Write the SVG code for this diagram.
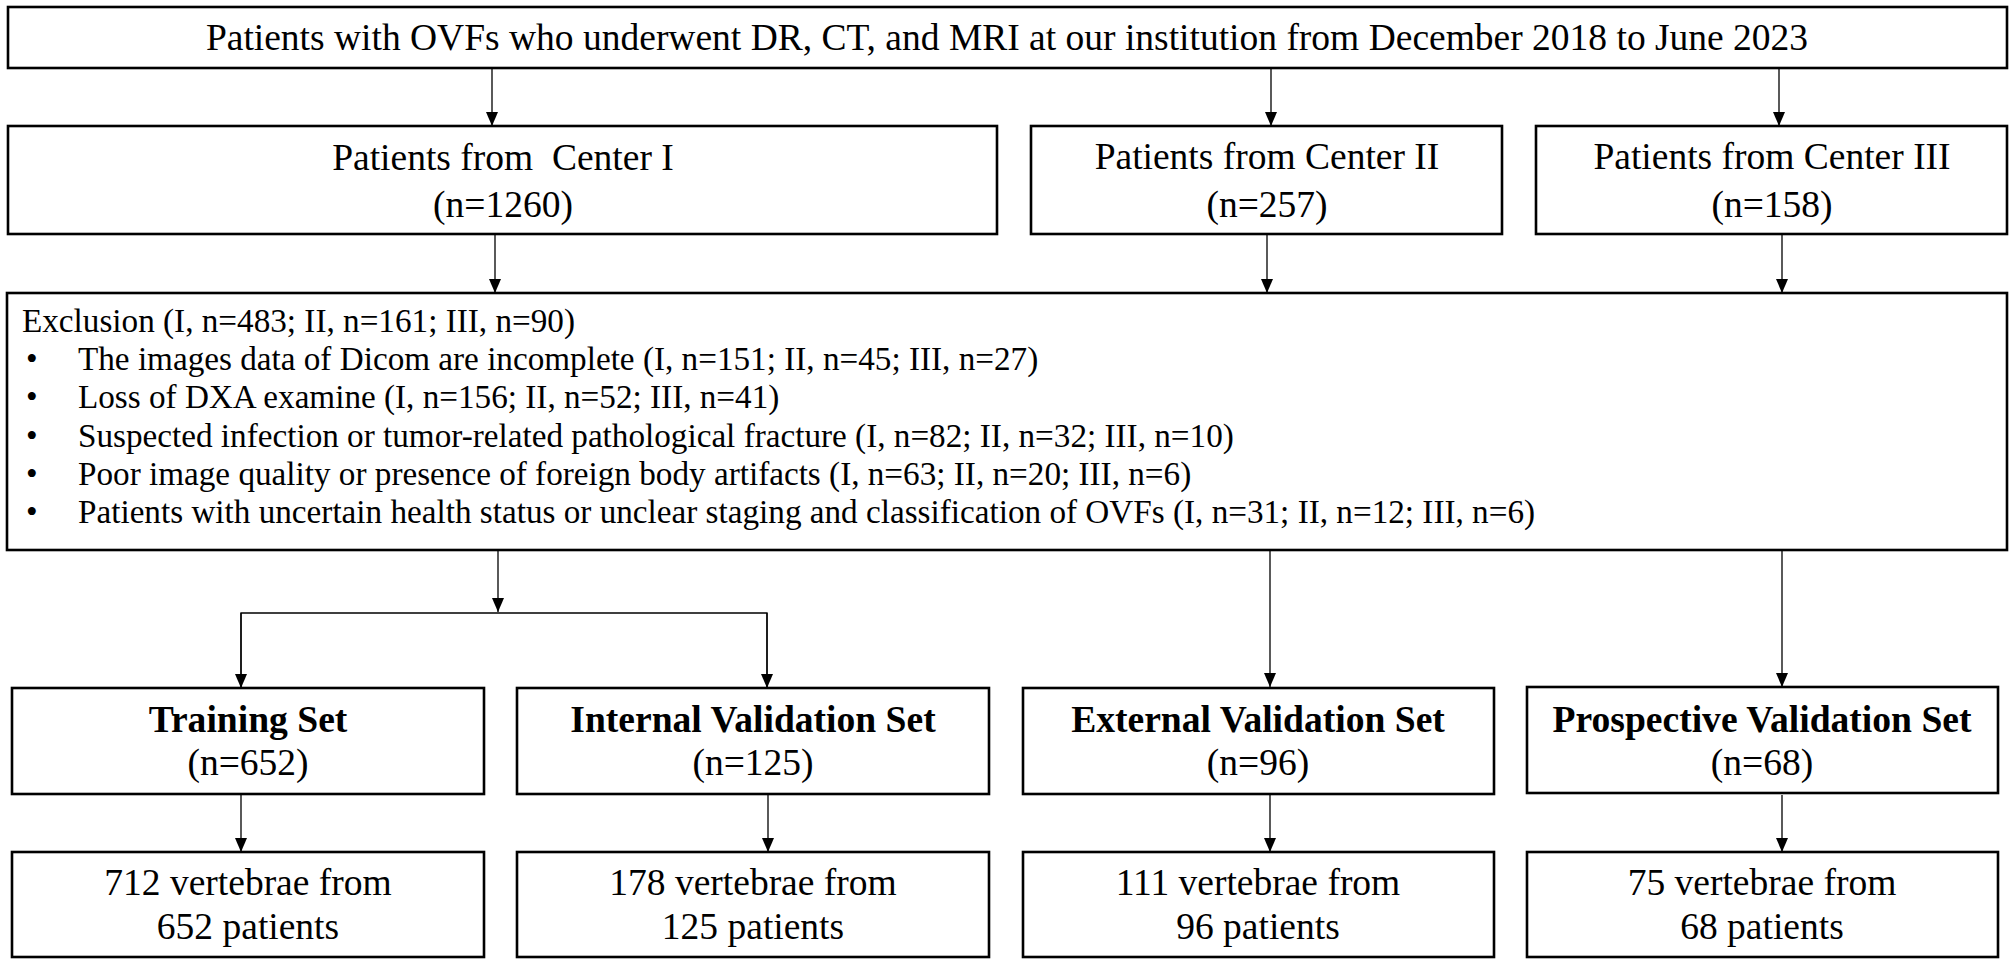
<svg xmlns="http://www.w3.org/2000/svg" width="2015" height="965" viewBox="0 0 2015 965">
<style>
.box{fill:#fff;stroke:#000;stroke-width:2.6}
.t{font-family:"Liberation Serif","Times New Roman",serif;font-size:37.5px;fill:#000;text-anchor:middle}
.b{font-weight:bold;font-size:37.6px}
.ex{font-family:"Liberation Serif","Times New Roman",serif;font-size:33.2px;fill:#000}
.c{fill:none;stroke:#000;stroke-width:1.3}
</style>
<defs>
<marker id="av" markerUnits="userSpaceOnUse" markerWidth="12" markerHeight="14" viewBox="0 0 12 14" refX="6" refY="14" orient="0">
<path d="M0,0 L12,0 L6,14 Z" fill="#000"/>
</marker>
</defs>
<rect width="2015" height="965" fill="#fff"/>
<g id="connectors">
<line class="c" x1="492" y1="68" x2="492" y2="126" marker-end="url(#av)"/>
<line class="c" x1="1271" y1="68" x2="1271" y2="126" marker-end="url(#av)"/>
<line class="c" x1="1779" y1="68" x2="1779" y2="126" marker-end="url(#av)"/>
<line class="c" x1="495" y1="234" x2="495" y2="293" marker-end="url(#av)"/>
<line class="c" x1="1267" y1="234" x2="1267" y2="293" marker-end="url(#av)"/>
<line class="c" x1="1782" y1="234" x2="1782" y2="293" marker-end="url(#av)"/>
<line class="c" x1="498" y1="551" x2="498" y2="612" marker-end="url(#av)"/>
<polyline class="c" points="241,687 241,613 767,613 767,687"/>
<line class="c" x1="241" y1="613" x2="241" y2="688" marker-end="url(#av)"/>
<line class="c" x1="767" y1="613" x2="767" y2="688" marker-end="url(#av)"/>
<line class="c" x1="1270" y1="551" x2="1270" y2="687" marker-end="url(#av)"/>
<line class="c" x1="1782" y1="551" x2="1782" y2="687" marker-end="url(#av)"/>
<line class="c" x1="241" y1="795" x2="241" y2="852" marker-end="url(#av)"/>
<line class="c" x1="768" y1="795" x2="768" y2="852" marker-end="url(#av)"/>
<line class="c" x1="1270" y1="795" x2="1270" y2="852" marker-end="url(#av)"/>
<line class="c" x1="1782" y1="795" x2="1782" y2="852" marker-end="url(#av)"/>
</g>
<g id="top">
<rect class="box" x="8" y="7" width="1999" height="61"/>
<text class="t" x="1007" y="50">Patients with OVFs who underwent DR, CT, and MRI at our institution from December 2018 to June 2023</text>
</g>
<g id="center1">
<rect class="box" x="8" y="126" width="989" height="108"/>
<text class="t" x="503" y="170" xml:space="preserve">Patients from  Center I</text>
<text class="t" x="503" y="217">(n=1260)</text>
</g>
<g id="center2">
<rect class="box" x="1031" y="126" width="471" height="108"/>
<text class="t" x="1267" y="169">Patients from Center II</text>
<text class="t" x="1267" y="217">(n=257)</text>
</g>
<g id="center3">
<rect class="box" x="1536" y="126" width="471" height="108"/>
<text class="t" x="1772" y="169">Patients from Center III</text>
<text class="t" x="1772" y="217">(n=158)</text>
</g>
<g id="exclusion">
<rect class="box" x="7" y="293" width="2000" height="257"/>
<text class="ex" x="22" y="332">Exclusion (I, n=483; II, n=161; III, n=90)</text>
<text class="ex" x="26" y="370">•</text><text class="ex" x="78" y="370">The images data of Dicom are incomplete (I, n=151; II, n=45; III, n=27)</text>
<text class="ex" x="26" y="408">•</text><text class="ex" x="78" y="408">Loss of DXA examine (I, n=156; II, n=52; III, n=41)</text>
<text class="ex" x="26" y="447">•</text><text class="ex" x="78" y="447">Suspected infection or tumor-related pathological fracture (I, n=82; II, n=32; III, n=10)</text>
<text class="ex" x="26" y="485">•</text><text class="ex" x="78" y="485">Poor image quality or presence of foreign body artifacts (I, n=63; II, n=20; III, n=6)</text>
<text class="ex" x="26" y="523">•</text><text class="ex" x="78" y="523">Patients with uncertain health status or unclear staging and classification of OVFs (I, n=31; II, n=12; III, n=6)</text>
</g>
<g id="training">
<rect class="box" x="12" y="688" width="472" height="106"/>
<text class="t b" x="248" y="732">Training Set</text>
<text class="t" x="248" y="775">(n=652)</text>
</g>
<g id="internal">
<rect class="box" x="517" y="688" width="472" height="106"/>
<text class="t b" x="753" y="732">Internal Validation Set</text>
<text class="t" x="753" y="775">(n=125)</text>
</g>
<g id="external">
<rect class="box" x="1023" y="688" width="471" height="106"/>
<text class="t b" x="1258" y="732">External Validation Set</text>
<text class="t" x="1258" y="775">(n=96)</text>
</g>
<g id="prospective">
<rect class="box" x="1527" y="687" width="471" height="106"/>
<text class="t b" x="1762" y="732">Prospective Validation Set</text>
<text class="t" x="1762" y="775">(n=68)</text>
</g>
<g id="v1">
<rect class="box" x="12" y="852" width="472" height="105"/>
<text class="t" x="248" y="895">712 vertebrae from</text>
<text class="t" x="248" y="939">652 patients</text>
</g>
<g id="v2">
<rect class="box" x="517" y="852" width="472" height="105"/>
<text class="t" x="753" y="895">178 vertebrae from</text>
<text class="t" x="753" y="939">125 patients</text>
</g>
<g id="v3">
<rect class="box" x="1023" y="852" width="471" height="105"/>
<text class="t" x="1258" y="895">111 vertebrae from</text>
<text class="t" x="1258" y="939">96 patients</text>
</g>
<g id="v4">
<rect class="box" x="1527" y="852" width="471" height="105"/>
<text class="t" x="1762" y="895">75 vertebrae from</text>
<text class="t" x="1762" y="939">68 patients</text>
</g>
</svg>
